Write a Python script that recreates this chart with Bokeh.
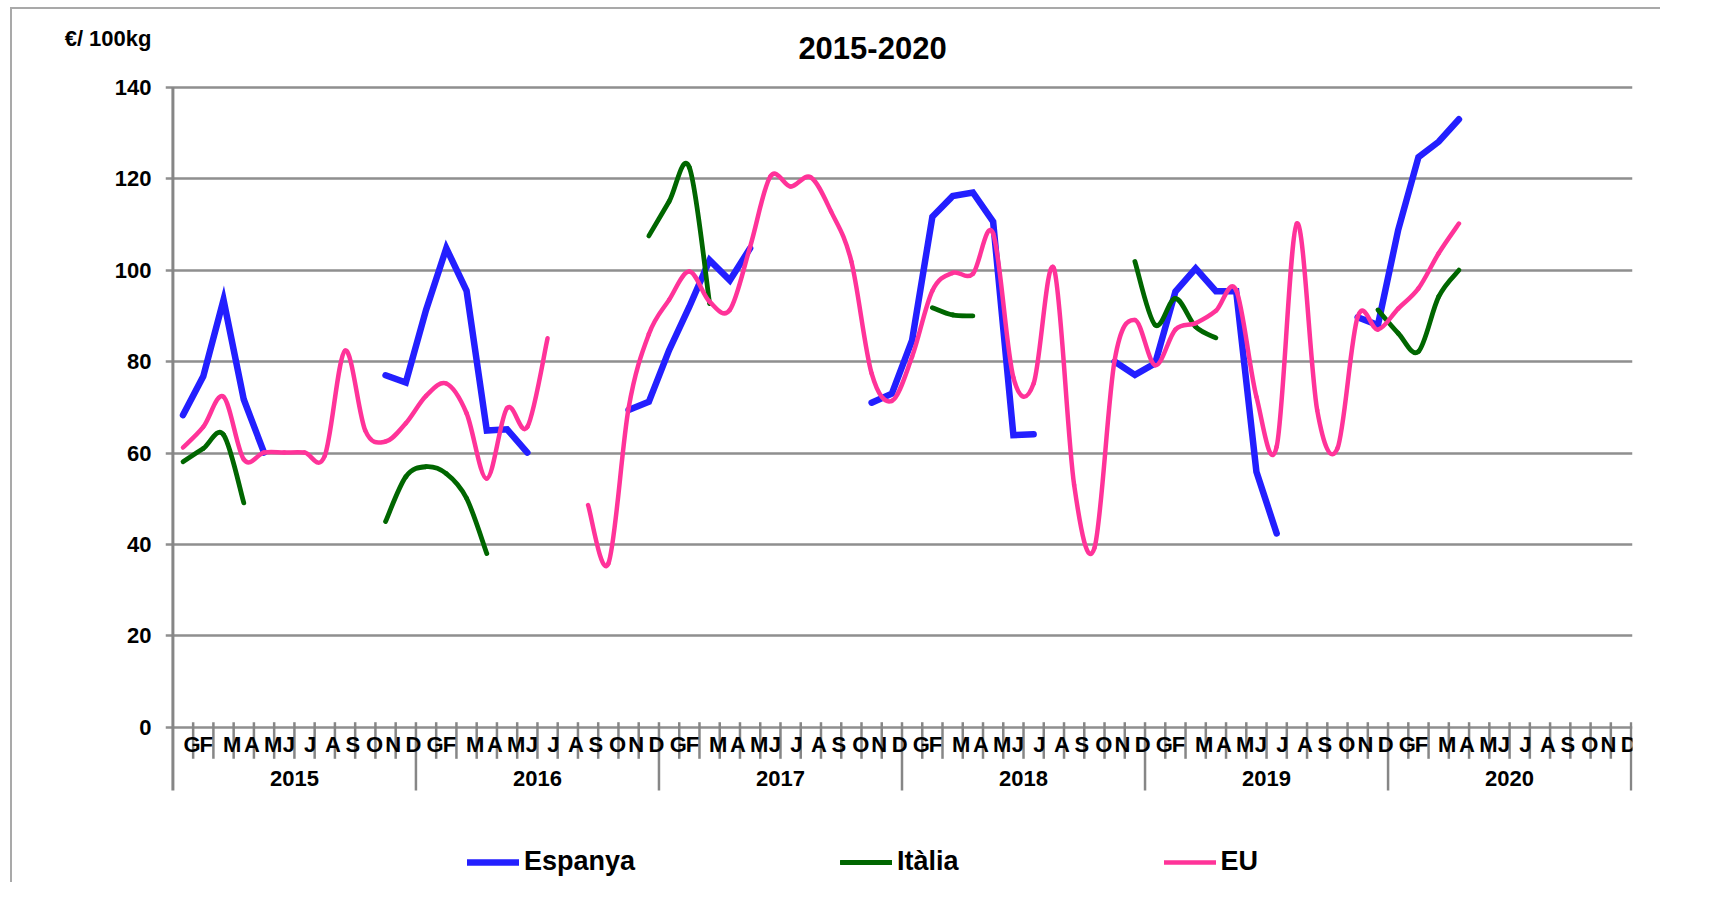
import numpy as np
from bokeh.plotting import figure
from bokeh.models import Range1d, FixedTicker, Legend, LegendItem, ColumnDataSource
from bokeh.core.properties import value
from bokeh.embed import file_html
from bokeh.resources import INLINE

N = None
# ---------------- data ----------------
month_labels = ["G", "F", "M", "A", "M", "J", "J", "A", "S", "O", "N", "D"]
year_labels = ["2015", "2016", "2017", "2018", "2019", "2020"]
y_ticks = [0, 20, 40, 60, 80, 100, 120, 140]
title_text = "2015-2020"
unit_text = "€/ 100kg"
series_names = ["Espanya", "Itàlia", "EU"]

espanya = [68.3, 76.8, 93.5, 71.7, 60.1, N, N, N, N, N, 77.0, 75.4,
           91.3, 104.8, 95.5, 64.9, 65.2, 60.1, N, N, N, N, 69.4, 71.2,
           82.5, 92.0, 102.2, 97.8, 104.8, N, N, N, N, N, 71.0, 73.0,
           84.7, 111.7, 116.2, 117.0, 110.6, 63.9, 64.1, N, N, N, 80.0, 77.1,
           79.6, 95.3, 100.4, 95.4, 95.4, 55.9, 42.4, N, N, N, 89.7, 88.0,
           108.8, 124.7, 128.1, 133.0, N, N, N, N, N, N, N, N]

italia = [58.1, 61.0, 64.0, 49.1, N, N, N, N, N, N, 45.0, 54.8,
          57.0, 55.5, 50.1, 38.0, N, N, N, N, N, N, N, 107.5,
          115.0, 122.5, 92.7, N, N, N, N, N, N, N, N, N,
          N, 91.8, 90.2, 90.0, N, N, N, N, N, N, N, 101.9,
          88.0, 93.8, 87.6, 85.2, N, N, N, N, N, N, N, 91.3,
          86.2, 82.2, 94.2, 100.0, N, N, N, N, N, N, N, N]

eu = [61.2, 65.7, 72.3, 58.6, 60.1, 60.1, 60.1, 59.4, 82.4, 64.9, 62.5, 66.5,
      72.5, 75.2, 68.7, 54.4, 69.8, 65.7, 85.1, N, 48.6, 35.8, 69.8, 86.0,
      93.5, 99.7, 93.1, 91.3, 105.1, 120.5, 118.3, 120.3, 112.8, 101.9, 77.4, 71.4,
      81.1, 95.5, 99.4, 99.2, 108.0, 76.5, 75.2, 100.4, 53.0, 39.2, 80.3, 89.1,
      79.2, 87.0, 88.4, 91.1, 95.6, 72.3, 61.4, 110.2, 69.4, 61.0, 89.8, 87.0,
      91.6, 96.0, 103.7, 110.2, N, N, N, N, N, N, N, N]

# ---------------- layout / style ----------------
FONT = "Liberation Sans"
C_ES, C_IT, C_EU = "#231FFF", "#006600", "#FF3399"
GRID = "#8f8f8f"
AXIS = "#868686"
W, H = 1650, 875
OX, OY = 12, 9                  # canvas origin on screen (css relative offset)
X0_SCREEN, X72_SCREEN = 172.4, 1630.6
Y0_SCREEN, PX_PER_UNIT = 726.8, 4.5714
FRAME_LEFT_SCREEN = 165.0
LABEL_OFFSETS = [0.95, 0.65, 0.92, 0.9, 0.95, 0.72, 0.78, 0.9, 0.88, 0.96, 0.88, 0.88]

n_months = len(month_labels) * len(year_labels)
px_month = (X72_SCREEN - X0_SCREEN) / n_months
x0_canvas = X0_SCREEN - OX
MB_LEFT = int(round(FRAME_LEFT_SCREEN - OX))
MB_RIGHT = int(round(W - (x0_canvas + n_months * px_month + 1.5)))
x_start = (MB_LEFT - x0_canvas) / px_month
x_end = ((W - MB_RIGHT) - x0_canvas) / px_month
y0_canvas = Y0_SCREEN - OY
y_top = y0_canvas / PX_PER_UNIT
y_bot = (y0_canvas - H) / PX_PER_UNIT


def v_of(screen_y):
    return (Y0_SCREEN - screen_y) / PX_PER_UNIT


unit_tick = round(v_of(38.5), 3)

p = figure(width=W, height=H, output_backend="svg", toolbar_location=None,
           x_range=Range1d(x_start, x_end), y_range=Range1d(y_bot, y_top),
           x_axis_location=None, y_axis_location="left",
           min_border_left=MB_LEFT, min_border_right=MB_RIGHT,
           min_border_top=0, min_border_bottom=0,
           background_fill_color="white", border_fill_color="white")
p.outline_line_color = None
p.styles = {"position": "relative", "left": f"{OX}px", "top": f"{OY}px",
            "box-shadow": "-2px -2px 0px 0px #a9a9a9"}

# y axis (tick stubs are the left ends of the grid lines)
ax = p.yaxis[0]
ax.ticker = FixedTicker(ticks=y_ticks + [unit_tick])
ax.major_label_overrides = {unit_tick: unit_text}
ax.axis_line_color = None
ax.major_tick_line_color = None
ax.major_tick_out = 0
ax.major_tick_in = 0
ax.minor_tick_line_color = None
ax.major_label_standoff = 14
ax.major_label_text_font = FONT
ax.major_label_text_font_style = "bold"
ax.major_label_text_font_size = "22px"
ax.major_label_text_color = "black"

for g in p.xgrid:
    g.visible = False
for g in p.ygrid:
    g.ticker = FixedTicker(ticks=y_ticks)
    g.grid_line_color = GRID
    g.grid_line_width = 2.5

# vertical axis line (down to the year ticks)
v_tick_top = v_of(721.7)
v_minor_bot = v_of(758.3)
v_year_bot = v_of(790.0)
p.segment(x0=[0], y0=[v_year_bot], x1=[0], y1=[max(y_ticks)], line_color=AXIS, line_width=3)

# month ticks and year ticks
minor_x = [m for m in range(1, n_months) if m % 12 != 0]
p.segment(x0=minor_x, y0=[v_tick_top] * len(minor_x), x1=minor_x, y1=[v_minor_bot] * len(minor_x),
          line_color=AXIS, line_width=2.5)
year_x = list(range(12, n_months + 1, 12))
p.segment(x0=year_x, y0=[v_tick_top] * len(year_x), x1=year_x, y1=[v_year_bot] * len(year_x),
          line_color=AXIS, line_width=2.5)

# month labels
mx, mt = [], []
for yi in range(len(year_labels)):
    for mi, lab in enumerate(month_labels):
        mx.append(yi * 12 + mi + LABEL_OFFSETS[mi])
        mt.append(lab)
p.text(x=mx, y=[v_of(743.5)] * len(mx), text=mt, text_align="center", text_baseline="middle",
       text_font=value(FONT), text_font_style="bold", text_font_size="22px", text_color="black")
# year labels
p.text(x=[yi * 12 + 6 for yi in range(len(year_labels))], y=[v_of(777.5)] * len(year_labels),
       text=year_labels, text_align="center", text_baseline="middle",
       text_font=value(FONT), text_font_style="bold", text_font_size="22px", text_color="black")

# title
p.text(x=[(872 - X0_SCREEN) / px_month], y=[v_of(47)], text=[title_text], text_align="center",
       text_baseline="middle", text_font=value(FONT), text_font_style="bold",
       text_font_size="31px", text_color="black")

# ---------------- series ----------------
xs = np.arange(n_months) + 0.5


def to_arr(vals):
    return np.array([np.nan if v is None else v for v in vals], dtype=float)


def bezier_source(vals):
    runs, cur = [], []
    for i, v in enumerate(vals):
        if v is None:
            if cur:
                runs.append(cur)
                cur = []
        else:
            cur.append((xs[i], v))
    if cur:
        runs.append(cur)
    d = {k: [] for k in ["x0", "y0", "x1", "y1", "cx0", "cy0", "cx1", "cy1"]}
    for run in runs:
        pts = np.array(run, dtype=float)
        n = len(pts)
        for i in range(n - 1):
            p0 = pts[i - 1] if i > 0 else pts[i]
            p1, p2 = pts[i], pts[i + 1]
            p3 = pts[i + 2] if i + 2 < n else pts[i + 1]
            c0 = p1 + (p2 - p0) / 6.0
            c1 = p2 - (p3 - p1) / 6.0
            d["x0"].append(p1[0]); d["y0"].append(p1[1])
            d["x1"].append(p2[0]); d["y1"].append(p2[1])
            d["cx0"].append(c0[0]); d["cy0"].append(c0[1])
            d["cx1"].append(c1[0]); d["cy1"].append(c1[1])
    return ColumnDataSource(d)


r_es = p.line(xs, to_arr(espanya), line_color=C_ES, line_width=6.5,
              line_cap="round", line_join="miter")
r_it = p.bezier(x0="x0", y0="y0", x1="x1", y1="y1", cx0="cx0", cy0="cy0", cx1="cx1", cy1="cy1",
                source=bezier_source(italia), line_color=C_IT, line_width=4.8, line_cap="round")
r_eu = p.bezier(x0="x0", y0="y0", x1="x1", y1="y1", cx0="cx0", cy0="cy0", cx1="cx1", cy1="cy1",
                source=bezier_source(eu), line_color=C_EU, line_width=4.5, line_cap="round")

legend_bottom_screen = 877.7
legend = Legend(items=[LegendItem(label=series_names[0], renderers=[r_es]),
                       LegendItem(label=series_names[1], renderers=[r_it]),
                       LegendItem(label=series_names[2], renderers=[r_eu])],
                orientation="horizontal",
                location=(467 - FRAME_LEFT_SCREEN, (OY + H) - legend_bottom_screen),
                spacing=205, glyph_width=52, glyph_height=32, label_height=32,
                label_standoff=5, padding=0, margin=0,
                border_line_alpha=0, background_fill_alpha=0,
                label_text_font=FONT, label_text_font_style="bold",
                label_text_font_size="27px", label_text_color="black")
p.add_layout(legend)

open("out.html", "w").write(file_html(p, INLINE))
